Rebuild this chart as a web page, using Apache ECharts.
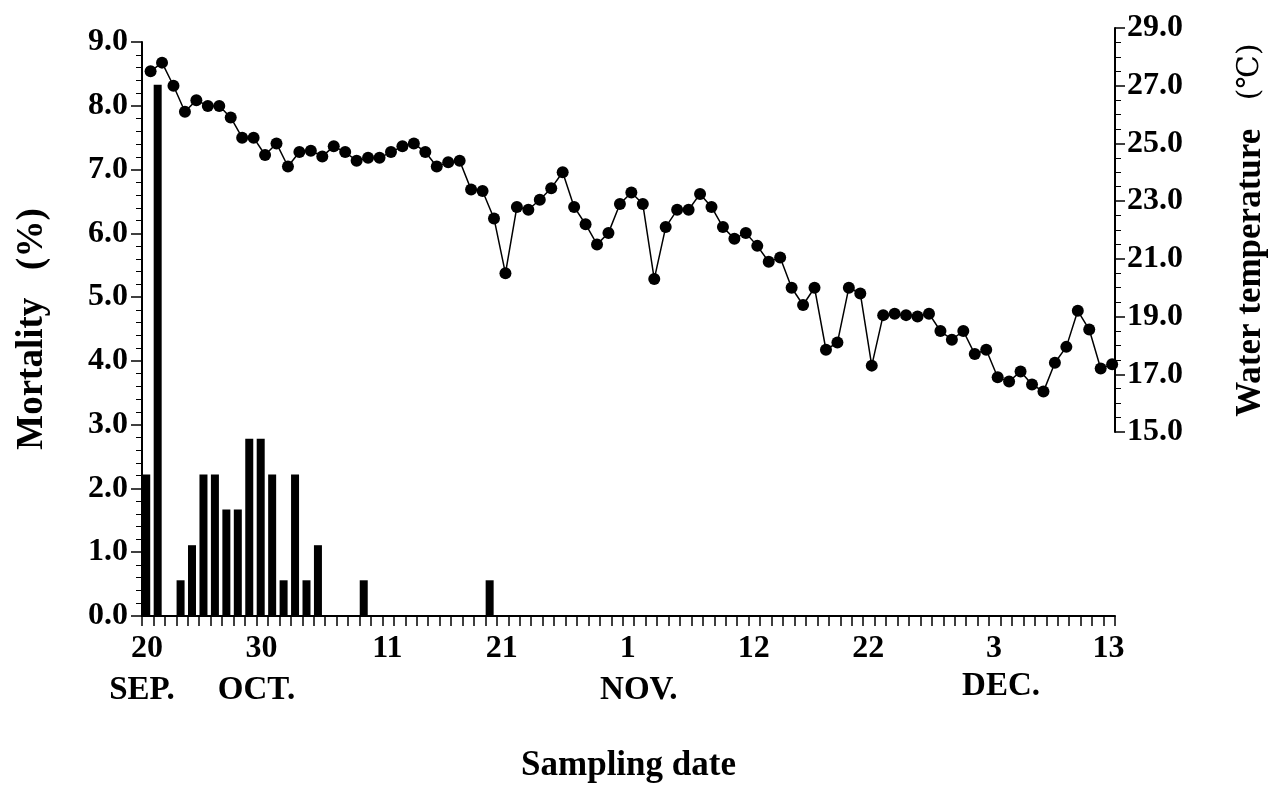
<!DOCTYPE html>
<html>
<head>
<meta charset="utf-8">
<script src="https://cdn.jsdelivr.net/npm/echarts@6/dist/echarts.min.js"></script>
<style>
  html, body { margin: 0; padding: 0; background: #fff; }
  #main { width: 1268px; height: 788px; }
</style>
</head>
<body>
<div id="main"></div>
<script>
// days counted from Sep. 20
var tickDays = [0, 10, 21, 31, 42, 53, 63, 74, 84];
var tickLabels = ['20', '30', '11', '21', '1', '12', '22', '3', '13'];
var tickMonths = ['SEP.', 'OCT.', '', '', 'NOV.', '', '', 'DEC.', ''];

// daily mortality (%)
var deathDays = [0, 1, 3, 4, 5, 6, 7, 8, 9, 10, 11, 12, 13, 14, 15, 19, 30];
var mortality = [2.22, 8.33, 0.56, 1.11, 2.22, 2.22, 1.67, 1.67, 2.78, 2.78, 2.22, 0.56, 2.22, 0.56, 1.11, 0.56, 0.56];

// daily water temperature (C), one sample a day
var waterTemp = [
    27.5, 27.8, 27.0, 26.1, 26.5, 26.3, 26.3, 25.9, 25.2, 25.2,
    24.6, 25.0, 24.2, 24.7, 24.75, 24.55, 24.9, 24.7, 24.4, 24.5,
    24.5, 24.7, 24.9, 25.0, 24.7, 24.2, 24.35, 24.4, 23.4, 23.35,
    22.4, 20.5, 22.8, 22.7, 23.05, 23.45, 24.0, 22.8, 22.2, 21.5,
    21.9, 22.9, 23.3, 22.9, 20.3, 22.1, 22.7, 22.7, 23.25, 22.8,
    22.1, 21.7, 21.9, 21.45, 20.9, 21.05, 20.0, 19.4, 20.0, 17.85,
    18.1, 20.0, 19.8, 17.3, 19.05, 19.1, 19.05, 19.0, 19.1, 18.5,
    18.2, 18.5, 17.7, 17.85, 16.9, 16.75, 17.1, 16.65, 16.4, 17.4,
    17.95, 19.2, 18.55, 17.2, 17.35
];

var sampleTime = 0.75;   // fraction of the day when temperature was taken
var barCenter = 0.37;

var font = 'Liberation Serif';
var mychart = echarts.init(document.getElementById('main'));

// month names sit a bit right of their day number for NOV. and DEC.
var monthStyle = {'NOV.': 'm2', 'DEC.': 'm1'};

var option = {
    animation: false,
    textStyle: {fontFamily: font, color: '#000'},
    grid: [
        {left: 142, right: 153, top: 42, bottom: 172, outerBoundsMode: 'none', containLabel: false},
        {left: 142, right: 153, top: 28, bottom: 356, outerBoundsMode: 'none', containLabel: false}
    ],
    xAxis: [
        {
            type: 'value',
            gridIndex: 0,
            min: 0,
            max: 85,
            interval: 1,
            splitLine: {show: false},
            axisLine: {lineStyle: {color: '#000', width: 2}},
            axisTick: {length: 10, lineStyle: {color: '#000', width: 1.5}},
            axisLabel: {
                margin: 12,
                showMinLabel: true,
                showMaxLabel: true,
                formatter: function (v) {
                    var k = tickDays.indexOf(Math.round(v));
                    if (k < 0) return '';
                    var s = '{d|' + tickLabels[k] + '}';
                    if (tickMonths[k]) s += '\n{' + (monthStyle[tickMonths[k]] || 'm') + '|' + tickMonths[k] + '}';
                    return s;
                },
                rich: {
                    d: {fontFamily: font, fontWeight: 'bold', fontSize: 32, lineHeight: 42, color: '#000', padding: [0, 0, 0, 10]},
                    m: {fontFamily: font, fontWeight: 'bold', fontSize: 33, lineHeight: 40, color: '#000'},
                    m1: {fontFamily: font, fontWeight: 'bold', fontSize: 33, lineHeight: 32, color: '#000', padding: [0, 0, 0, 24]},
                    m2: {fontFamily: font, fontWeight: 'bold', fontSize: 33, lineHeight: 40, color: '#000', padding: [0, 0, 0, 32]}
                }
            },
            name: 'Sampling date',
            nameLocation: 'middle',
            nameGap: 132,
            nameTextStyle: {fontFamily: font, fontWeight: 'bold', fontSize: 35, color: '#000'}
        },
        {
            type: 'value',
            gridIndex: 1,
            min: 0,
            max: 85,
            show: false
        }
    ],
    yAxis: [
        {
            type: 'value',
            gridIndex: 0,
            min: 0,
            max: 9,
            interval: 1,
            splitLine: {show: false},
            axisLine: {show: true, onZero: false, lineStyle: {color: '#000', width: 2}},
            axisTick: {show: true, length: 11, lineStyle: {color: '#000', width: 1.5}},
            minorTick: {show: true, splitNumber: 5, length: 6, lineStyle: {color: '#000', width: 1}},
            axisLabel: {
                margin: 14,
                fontFamily: font,
                fontWeight: 'bold',
                fontSize: 32,
                color: '#000',
                formatter: function (v) { return v.toFixed(1); }
            },
            name: 'Mortality   (%)',
            nameLocation: 'middle',
            nameRotate: 90,
            nameGap: 91,
            nameTextStyle: {fontFamily: font, fontWeight: 'bold', fontSize: 37, color: '#000'}
        },
        {
            type: 'value',
            gridIndex: 1,
            position: 'right',
            min: 15,
            max: 29,
            interval: 2,
            splitLine: {show: false},
            axisLine: {show: true, onZero: false, lineStyle: {color: '#000', width: 2}},
            axisTick: {show: true, length: 10, lineStyle: {color: '#000', width: 1.5}},
            minorTick: {show: true, splitNumber: 4, length: 6, lineStyle: {color: '#000', width: 1}},
            axisLabel: {
                margin: 12,
                fontFamily: font,
                fontWeight: 'bold',
                fontSize: 32,
                color: '#000',
                formatter: function (v) { return v.toFixed(1); }
            },
            name: '{b|Water temperature}{n|   (\u2103)}',
            nameLocation: 'middle',
            nameRotate: 90,
            nameGap: 118,
            nameTextStyle: {
                rich: {
                    b: {fontFamily: font, fontWeight: 'bold', fontSize: 35, color: '#000'},
                    n: {fontFamily: 'DejaVu Serif', fontWeight: 'normal', fontSize: 30, color: '#000'}
                }
            }
        }
    ],
    series: [
        {
            name: 'Mortality',
            type: 'bar',
            xAxisIndex: 0,
            yAxisIndex: 0,
            barWidth: 8,
            itemStyle: {color: '#000'},
            data: deathDays.map(function (d, i) { return [d + barCenter, mortality[i]]; })
        },
        {
            name: 'Water temperature',
            type: 'line',
            xAxisIndex: 1,
            yAxisIndex: 1,
            symbol: 'circle',
            symbolSize: 12,
            itemStyle: {color: '#000'},
            lineStyle: {color: '#000', width: 1.5},
            data: waterTemp.map(function (t, i) { return [i + sampleTime, t]; })
        }
    ]
};

mychart.setOption(option);
</script>
</body>
</html>
